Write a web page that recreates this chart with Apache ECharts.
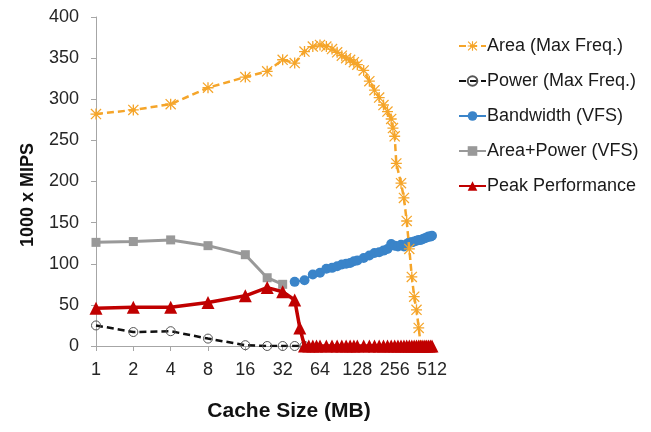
<!DOCTYPE html>
<html>
<head>
<meta charset="utf-8">
<script src="https://cdn.jsdelivr.net/npm/echarts@6/dist/echarts.min.js"></script>
<style>html,body{margin:0;padding:0;background:#fff;}#c{width:651px;height:432px;}</style>
</head>
<body>
<div id="c"></div>
<script>
// ---- data ----
const xTicks = [1, 2, 4, 8, 16, 32, 64, 128, 256, 512];
const yTicks = [0, 50, 100, 150, 200, 250, 300, 350, 400];

const areaX = [1, 2, 4, 8, 16, 24, 32, 40, 48, 56, 64, 72, 80, 88, 96, 104, 112, 120, 128, 144, 160, 176, 192, 208, 224, 240, 248, 256, 264, 288, 304, 320, 336, 352, 368, 384, 400, 416];
const areaY = [282, 287, 294, 314, 327, 334, 348, 344, 358, 364, 366, 364, 361, 357, 353, 350, 348, 345, 342, 335, 322, 311, 302, 293, 285, 276, 265, 255, 222, 198, 180, 152, 118, 84, 60, 44, 22, 0];

const powerX = [1, 2, 4, 8, 16, 24, 32, 40, 48];
const powerY = [25, 17, 18, 9, 1, 0, 0, 0, 0];

const bwX = [40, 48, 56, 64, 72, 80, 88, 96, 104, 112, 120, 128, 144, 160, 176, 192, 208, 224, 240, 256, 272, 288, 304, 320, 336, 352, 368, 384, 400, 416, 432, 448, 464, 480, 496, 512];
const bwY = [78, 80, 87, 89, 94, 95, 97, 99, 100, 101, 103, 104, 107, 110, 113, 114, 116, 118, 124, 122, 121, 123, 121, 124, 126, 126, 127, 128, 129, 129, 130, 131, 132, 133, 133, 134];

const apX = [1, 2, 4, 8, 16, 24, 32];
const apY = [126, 127, 129, 122, 111, 83, 75];

const peakX = [1, 2, 4, 8, 16, 24, 32, 40, 44, 48, 52, 56, 60, 64, 72, 80, 88, 96, 104, 112, 120, 128, 144, 160, 176, 192, 208, 224, 240, 256, 272, 288, 304, 320, 336, 352, 368, 384, 400, 416, 432, 448, 464, 480, 496, 512];
const peakY = [46, 47, 47, 53, 61, 71, 66, 56, 22, 0, 0, 0, 0, 0, 0, 0, 0, 0, 0, 0, 0, 0, 0, 0, 0, 0, 0, 0, 0, 0, 0, 0, 0, 0, 0, 0, 0, 0, 0, 0, 0, 0, 0, 0, 0, 0];

const seriesNames = ['Area (Max Freq.)', 'Power (Max Freq.)', 'Bandwidth (VFS)', 'Area+Power (VFS)', 'Peak Performance'];
const xTitle = 'Cache Size (MB)';
const yTitle = '1000 x MIPS';

function pairs(xs, ys) { return xs.map((x, i) => [x, ys[i]]); }

const asterisk = 'path://M4.4,0 L5.6,0 L5.6,10 L4.4,10 Z M0,4.4 L10,4.4 L10,5.6 L0,5.6 Z M0.8,0 L10,9.2 L9.2,10 L0,0.8 Z M9.2,0 L10,0.8 L0.8,10 L0,9.2 Z';

const chart = echarts.init(document.getElementById('c'), null, {renderer: 'canvas'});
const font = 'Liberation Sans, Arial, sans-serif';
chart.setOption({
  animation: false,
  backgroundColor: '#fff',
  textStyle: {fontFamily: font},
  grid: {left: 96, right: 219, top: 17, bottom: 86, containLabel: false},
  legend: {
    orient: 'vertical', left: 453, top: 32, itemGap: 17, itemWidth: 27, itemHeight: 12,
    textStyle: {fontSize: 18, color: '#1a1a1a', fontFamily: font, padding: [0, 0, 0, -4]},
    data: seriesNames
  },
  xAxis: {
    type: 'log', logBase: 2, min: 1, max: 512,
    axisLine: {lineStyle: {color: '#a6a6a6', width: 1}},
    axisTick: {show: true, length: 5, lineStyle: {color: '#a6a6a6'}},
    minorTick: {show: false},
    splitLine: {show: false},
    axisLabel: {fontSize: 18, color: '#262626', margin: 15, fontFamily: font,
      formatter: v => (xTicks.indexOf(Math.round(v)) >= 0 ? String(Math.round(v)) : '')}
  },
  yAxis: {
    type: 'value', min: yTicks[0], max: yTicks[yTicks.length - 1], interval: 50,
    axisLine: {show: true, lineStyle: {color: '#a6a6a6', width: 1}},
    axisTick: {show: true, length: 5, lineStyle: {color: '#a6a6a6'}},
    splitLine: {show: false},
    axisLabel: {fontSize: 18, color: '#262626', margin: 17, fontFamily: font}
  },
  graphic: [
    {type: 'text', x: 289, y: 411, style: {text: xTitle, font: 'bold 21px ' + font, fill: '#111', textAlign: 'center', textVerticalAlign: 'middle'}},
    {type: 'text', x: 28, y: 195, rotation: Math.PI / 2, style: {text: yTitle, font: 'bold 18px ' + font, fill: '#111', textAlign: 'center', textVerticalAlign: 'middle'}}
  ],
  series: [
    {name: seriesNames[3], type: 'line', data: pairs(apX, apY), symbol: 'rect', symbolSize: 9,
      lineStyle: {color: '#999999', width: 3}, itemStyle: {color: '#999999'}, z: 2},
    {name: seriesNames[2], type: 'line', data: pairs(bwX, bwY), symbol: 'circle', symbolSize: 10,
      lineStyle: {color: '#3a84c9', width: 2}, itemStyle: {color: '#3a84c9'}, z: 3},
    {name: seriesNames[1], type: 'line', data: pairs(powerX, powerY), symbol: 'circle', symbolSize: 9,
      lineStyle: {color: '#111', width: 2.5, type: [7, 4]}, itemStyle: {color: 'rgba(255,255,255,0)', borderColor: '#555', borderWidth: 1}, z: 4},
    {name: seriesNames[0], type: 'line', data: pairs(areaX, areaY), symbol: asterisk, symbolSize: 11,
      lineStyle: {color: '#f5a52a', width: 2.5, type: [7, 4]}, itemStyle: {color: '#f5a52a'}, z: 5},
    {name: seriesNames[4], type: 'line', data: pairs(peakX, peakY), symbol: 'triangle', symbolSize: 13,
      lineStyle: {color: '#c00000', width: 3.5}, itemStyle: {color: '#c00000'}, z: 6}
  ]
});
</script>
</body>
</html>
